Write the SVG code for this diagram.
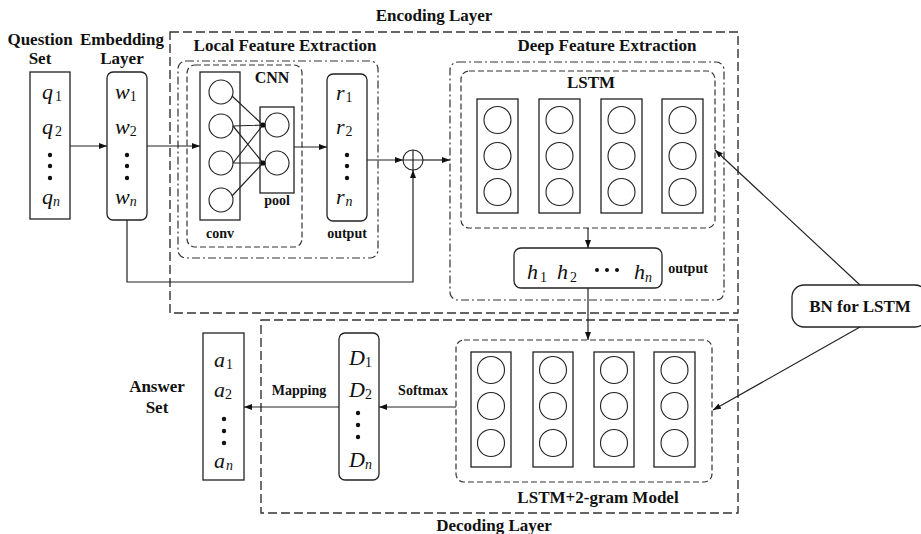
<svg xmlns="http://www.w3.org/2000/svg" width="921" height="534" viewBox="0 0 921 534">
<defs>
<style>
.t{font-family:"Liberation Serif","Times New Roman",serif;font-weight:bold;fill:#111}
.v{font-family:"Liberation Serif","Times New Roman",serif;font-style:italic;font-size:22px;fill:#111}
.s{font-style:normal;font-size:14px}
.si{font-style:italic;font-size:14px}
.box{fill:#fff;stroke:#222;stroke-width:1.3}
.c{fill:#fff;stroke:#222;stroke-width:1.1}
.outer{fill:none;stroke:#333;stroke-width:1.4;stroke-dasharray:9 4}
.dd{fill:none;stroke:#333;stroke-width:1.2;stroke-dasharray:8 3 2 3}
.da{fill:none;stroke:#333;stroke-width:1.2;stroke-dasharray:6 3}
.ln{fill:none;stroke:#222;stroke-width:1.2}
.dot{fill:#111}
</style>
<marker id="ah" markerWidth="8" markerHeight="6" refX="8" refY="3" orient="auto" markerUnits="userSpaceOnUse"><path d="M0,0 L8,3 L0,6 z" fill="#111"/></marker>
</defs>
<rect width="921" height="534" fill="#fff"/>

<!-- containers -->
<g id="encoding-layer">
<rect class="outer" x="170" y="32" width="568" height="281"/>
<text class="t" x="434" y="21" font-size="17" text-anchor="middle">Encoding Layer</text>
</g>
<g id="decoding-layer">
<rect class="outer" x="261" y="320" width="477" height="193"/>
<text class="t" x="494" y="531" font-size="17" text-anchor="middle">Decoding Layer</text>
</g>
<g id="local-feature">
<rect class="dd" x="178" y="61" width="200" height="197" rx="8"/>
<text class="t" x="285" y="51" font-size="17" text-anchor="middle">Local Feature Extraction</text>
</g>
<g id="deep-feature">
<rect class="dd" x="450" y="62" width="274" height="238" rx="8"/>
<text class="t" x="607" y="51" font-size="17" text-anchor="middle">Deep Feature Extraction</text>
</g>

<!-- Question set -->
<g id="question-set">
<text class="t" x="40" y="45" font-size="17" text-anchor="middle">Question</text>
<text class="t" x="40" y="64" font-size="17" text-anchor="middle">Set</text>
<rect class="box" x="30" y="72" width="40" height="147"/>
<text class="v" x="42" y="99">q<tspan class="s" dx="2" dy="2">1</tspan></text>
<text class="v" x="42" y="134">q<tspan class="s" dx="2" dy="2">2</tspan></text>
<circle class="dot" cx="50" cy="155" r="2.2"/><circle class="dot" cx="50" cy="166" r="2.2"/><circle class="dot" cx="50" cy="178" r="2.2"/>
<text class="v" x="42" y="204">q<tspan class="si" dy="2">n</tspan></text>
</g>

<!-- Embedding -->
<g id="embedding-layer">
<text class="t" x="122" y="45" font-size="17" text-anchor="middle">Embedding</text>
<text class="t" x="122" y="64" font-size="17" text-anchor="middle">Layer</text>
<rect class="box" x="107" y="72" width="40" height="148" rx="6"/>
<text class="v" x="115" y="99">w<tspan class="s" dy="2">1</tspan></text>
<text class="v" x="115" y="134">w<tspan class="s" dy="2">2</tspan></text>
<circle class="dot" cx="127" cy="155" r="2.2"/><circle class="dot" cx="127" cy="166" r="2.2"/><circle class="dot" cx="127" cy="178" r="2.2"/>
<text class="v" x="115" y="204">w<tspan class="si" dy="2">n</tspan></text>
</g>

<!-- CNN -->
<g id="cnn">
<rect class="da" x="187" y="65" width="115" height="182" rx="8"/>
<text class="t" x="272" y="83" font-size="16" text-anchor="middle">CNN</text>
<rect class="box" x="200" y="72" width="40" height="148"/>
<circle class="c" cx="221" cy="92" r="12"/>
<circle class="c" cx="221" cy="126" r="12"/>
<circle class="c" cx="221" cy="163" r="12"/>
<circle class="c" cx="221" cy="200" r="12"/>
<rect class="box" x="260" y="107" width="34" height="86"/>
<circle class="c" cx="277" cy="125" r="12"/>
<circle class="c" cx="277" cy="163" r="12"/>
<path class="ln" d="M232,96 L263,125 M233,126 L263,125 M233,126 L263,163 M233,163 L263,125 M233,163 L263,163 M232,196 L263,163"/>
<circle class="dot" cx="263" cy="125" r="2.6"/>
<circle class="dot" cx="263" cy="163" r="2.6"/>
<text class="t" x="277" y="205" font-size="14" text-anchor="middle">pool</text>
<text class="t" x="220" y="238" font-size="14" text-anchor="middle">conv</text>
</g>

<!-- CNN output -->
<g id="cnn-output">
<rect class="box" x="327" y="74" width="40" height="147" rx="6"/>
<text class="v" x="336" y="100">r<tspan class="s" dx="1" dy="2">1</tspan></text>
<text class="v" x="336" y="134">r<tspan class="s" dx="1" dy="2">2</tspan></text>
<circle class="dot" cx="347" cy="155" r="2.2"/><circle class="dot" cx="347" cy="166" r="2.2"/><circle class="dot" cx="347" cy="178" r="2.2"/>
<text class="v" x="336" y="204">r<tspan class="si" dx="1" dy="2">n</tspan></text>
<text class="t" x="347" y="238" font-size="14" text-anchor="middle">output</text>
</g>

<!-- plus -->
<g id="sum">
<circle class="c" cx="413" cy="160" r="10"/>
<path class="ln" d="M403,160 H423 M413,150 V170"/>
</g>

<!-- LSTM encoder -->
<g id="lstm">
<rect class="da" x="461" y="71" width="254" height="157" rx="8"/>
<text class="t" x="591" y="88" font-size="17" text-anchor="middle">LSTM</text>
<rect class="box" x="477" y="99" width="41" height="114"/>
<rect class="box" x="539" y="99" width="41" height="114"/>
<rect class="box" x="601" y="99" width="41" height="114"/>
<rect class="box" x="662" y="99" width="41" height="114"/>
<g class="c">
<circle cx="497.5" cy="120" r="13.5"/><circle cx="497.5" cy="156" r="13.5"/><circle cx="497.5" cy="192" r="13.5"/>
<circle cx="559.5" cy="120" r="13.5"/><circle cx="559.5" cy="156" r="13.5"/><circle cx="559.5" cy="192" r="13.5"/>
<circle cx="621.5" cy="120" r="13.5"/><circle cx="621.5" cy="156" r="13.5"/><circle cx="621.5" cy="192" r="13.5"/>
<circle cx="682.5" cy="120" r="13.5"/><circle cx="682.5" cy="156" r="13.5"/><circle cx="682.5" cy="192" r="13.5"/>
</g>
</g>

<!-- h output -->
<g id="lstm-output">
<rect class="box" x="514" y="248" width="148" height="40" rx="7"/>
<text class="v" x="527" y="279">h<tspan class="s" dx="2" dy="3">1</tspan></text>
<text class="v" x="557" y="279">h<tspan class="s" dx="2" dy="3">2</tspan></text>
<circle class="dot" cx="597" cy="270" r="2"/><circle class="dot" cx="607" cy="270" r="2"/><circle class="dot" cx="617" cy="270" r="2"/>
<text class="v" x="634" y="279">h<tspan class="si" dy="3">n</tspan></text>
<text class="t" x="688" y="273" font-size="14" text-anchor="middle">output</text>
</g>

<!-- BN -->
<g id="bn-for-lstm">
<rect class="box" x="792" y="285" width="135" height="42" rx="12"/>
<text class="t" x="860" y="312" font-size="17" text-anchor="middle">BN for LSTM</text>
</g>

<!-- LSTM+2-gram -->
<g id="lstm-2gram">
<rect class="da" x="456" y="340" width="256" height="142" rx="8"/>
<text class="t" x="598" y="503" font-size="17" text-anchor="middle">LSTM+2-gram Model</text>
<rect class="box" x="471" y="352" width="40" height="115"/>
<rect class="box" x="533" y="352" width="40" height="115"/>
<rect class="box" x="594" y="352" width="40" height="115"/>
<rect class="box" x="654" y="352" width="41" height="115"/>
<g class="c">
<circle cx="491" cy="370" r="13.5"/><circle cx="491" cy="406" r="13.5"/><circle cx="491" cy="443" r="13.5"/>
<circle cx="553" cy="370" r="13.5"/><circle cx="553" cy="406" r="13.5"/><circle cx="553" cy="443" r="13.5"/>
<circle cx="614" cy="370" r="13.5"/><circle cx="614" cy="406" r="13.5"/><circle cx="614" cy="443" r="13.5"/>
<circle cx="674.5" cy="370" r="13.5"/><circle cx="674.5" cy="406" r="13.5"/><circle cx="674.5" cy="443" r="13.5"/>
</g>
</g>

<!-- D -->
<g id="softmax-output">
<rect class="box" x="339" y="333" width="40" height="147" rx="6"/>
<text class="v" x="349" y="365">D<tspan class="s" dy="2">1</tspan></text>
<text class="v" x="349" y="397">D<tspan class="s" dy="2">2</tspan></text>
<circle class="dot" cx="358" cy="413" r="2.2"/><circle class="dot" cx="358" cy="425" r="2.2"/><circle class="dot" cx="358" cy="437" r="2.2"/>
<text class="v" x="349" y="467">D<tspan class="si" dy="2">n</tspan></text>
</g>

<!-- Answer -->
<g id="answer-set">
<text class="t" x="157" y="392" font-size="17" text-anchor="middle">Answer</text>
<text class="t" x="157" y="413" font-size="17" text-anchor="middle">Set</text>
<rect class="box" x="203" y="333" width="41" height="147"/>
<text class="v" x="214" y="367">a<tspan class="s" dx="1" dy="2">1</tspan></text>
<text class="v" x="214" y="397">a<tspan class="s" dy="2">2</tspan></text>
<circle class="dot" cx="224" cy="419" r="2.2"/><circle class="dot" cx="224" cy="431" r="2.2"/><circle class="dot" cx="224" cy="443" r="2.2"/>
<text class="v" x="214" y="468">a<tspan class="si" dx="1" dy="2">n</tspan></text>
</g>

<!-- connectors -->
<g id="connectors" class="ln">
<line x1="70" y1="146" x2="107" y2="146" marker-end="url(#ah)"/>
<line x1="147" y1="146" x2="200" y2="146" marker-end="url(#ah)"/>
<line x1="294" y1="147" x2="327" y2="147" marker-end="url(#ah)"/>
<line x1="367" y1="160" x2="403" y2="160" marker-end="url(#ah)"/>
<line x1="423" y1="160" x2="450" y2="160" marker-end="url(#ah)"/>
<polyline points="127,220 127,282 413,282 413,170" marker-end="url(#ah)"/>
<line x1="588" y1="228" x2="588" y2="248" marker-end="url(#ah)"/>
<line x1="588" y1="288" x2="588" y2="340" marker-end="url(#ah)"/>
<line x1="456" y1="407" x2="379" y2="407" marker-end="url(#ah)"/>
<line x1="339" y1="407" x2="244" y2="407" marker-end="url(#ah)"/>
<line x1="860" y1="285" x2="715" y2="150" marker-end="url(#ah)"/>
<line x1="860" y1="327" x2="713" y2="410" marker-end="url(#ah)"/>
<text class="t" x="423" y="395" font-size="14" text-anchor="middle" stroke="none">Softmax</text>
<text class="t" x="299" y="395" font-size="14" text-anchor="middle" stroke="none">Mapping</text>
</g>
</svg>
